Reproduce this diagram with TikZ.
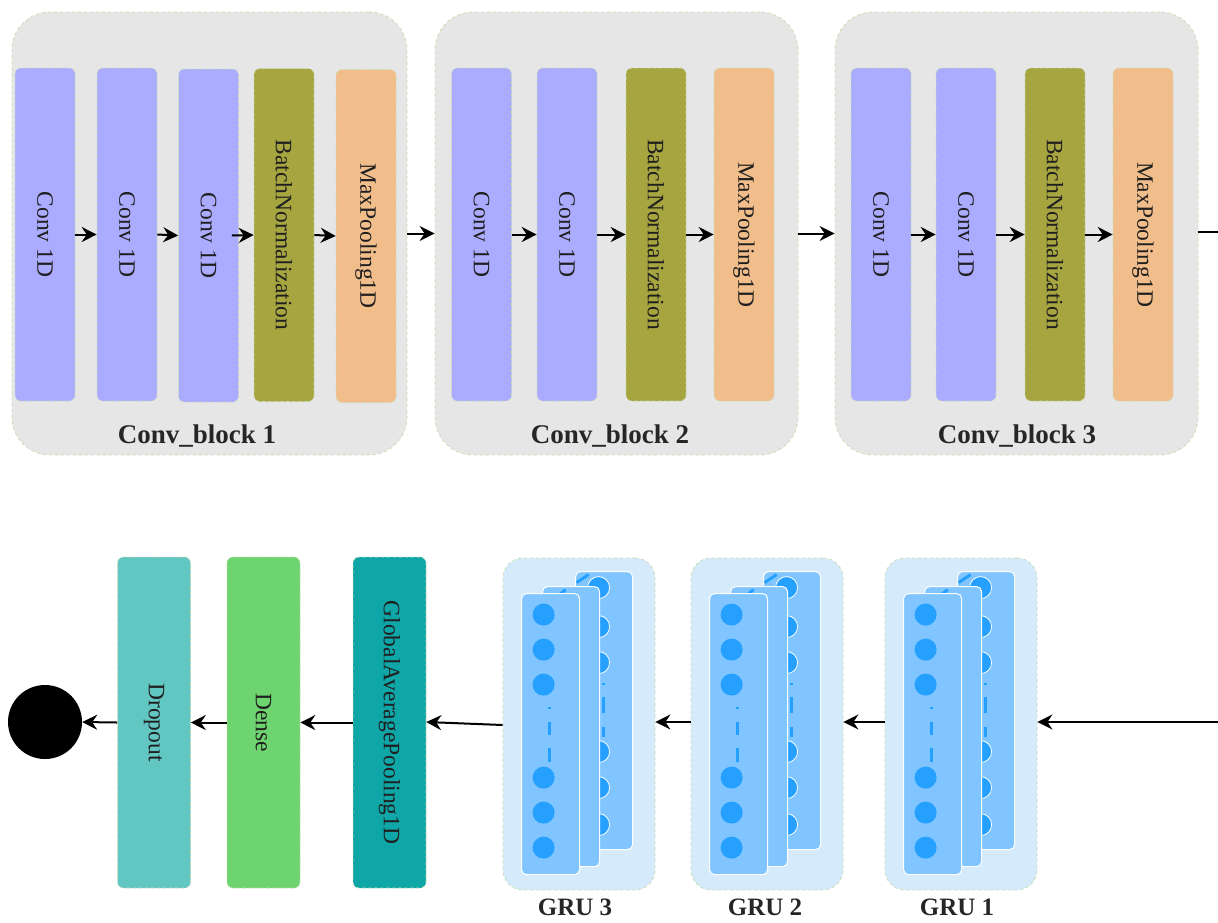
\documentclass[tikz,border=0pt]{standalone}
\usepackage{graphicx}
\usepackage{fontspec}
\setmainfont{Liberation Serif}
\usetikzlibrary{arrows.meta,calc}
\definecolor{bggrey}{HTML}{E6E6E6}
\definecolor{bordergreen}{HTML}{C8DEB2}
\definecolor{convc}{HTML}{ABABFF}
\definecolor{bnc}{HTML}{A7A540}
\definecolor{mpc}{HTML}{F1BD8B}
\definecolor{dropc}{HTML}{62C6C3}
\definecolor{densec}{HTML}{6ED46F}
\definecolor{gapc}{HTML}{0FA6A7}
\definecolor{grubg}{HTML}{D5EBFB}
\definecolor{cardc}{HTML}{80C5FF}
\definecolor{dotc}{HTML}{25A0FF}
\newcommand\layfont{\fontsize{23.5}{27}\selectfont}
\newcommand\blabfont{\fontsize{27}{30}\selectfont\bfseries}
\newcommand\grulabfont{\fontsize{25}{28}\selectfont\bfseries}
\begin{document}
\begin{tikzpicture}[x=1pt,y=-1pt,
  blockbg/.style={draw=bordergreen, dashed, line width=0.8pt, fill=bggrey, rounded corners=38pt,
    minimum width=#1, minimum height=443pt, inner sep=0pt},
  layer/.style={rounded corners=6pt, draw=bordergreen, dashed, line width=0.6pt,
    minimum width=60pt, minimum height=333pt, inner sep=0pt, font=\layfont, text=black!88},
  conv/.style={layer, fill=convc},
  bn/.style={layer, fill=bnc},
  mp/.style={layer, fill=mpc},
  headlayer/.style={layer, minimum width=73pt, minimum height=331pt},
  grubox/.style={draw=bordergreen, dashed, line width=0.8pt, fill=grubg, rounded corners=20pt,
    minimum width=152pt, minimum height=332pt, inner sep=0pt},
  blocklabel/.style={font=\blabfont, text=black!85, inner sep=0pt},
  grulabel/.style={font=\grulabfont, text=black!85, inner sep=0pt},
  arr/.style={-{Stealth[length=15pt,width=15pt,inset=5pt]}, line width=2pt},
  grucards/.pic={
    % back card
    \draw[white, line width=1pt, fill=cardc, rounded corners=5pt] (73,14) rectangle (130,292);
    \draw[dotc, line width=3pt] (74,25) -- (86,17);
    \foreach \yy in {30,69,105,194,230,267}
      \filldraw[fill=dotc, draw=white, line width=0.8pt] (96,\yy) circle (11pt);
    \draw[dotc, line width=3pt] (101,125) -- (101,127) (101,139) -- (101,155) (101,169) -- (101,179);
    % middle card
    \draw[white, line width=1pt, fill=cardc, rounded corners=5pt] (40,29) rectangle (97,309);
    \draw[dotc, line width=3pt] (52,41) -- (63,32);
    % front card
    \draw[white, line width=1pt, fill=cardc, rounded corners=5pt] (19,36) rectangle (77,317);
    \foreach \yy in {57,92,127,220,255,290}
      \fill[dotc] (41,\yy) circle (11pt);
    \draw[dotc, line width=3pt] (47,149) -- (47,151) (47,164) -- (47,177) (47,190) -- (47,204);
  }
]
\useasboundingbox (0,0) rectangle (1218,922);

% ---------- top row: containers ----------
\node[blockbg=395pt] (blk1) at (209.5,233.5) {};
\node[blockbg=363pt] (blk2) at (616.5,233.5) {};
\node[blockbg=363pt] (blk3) at (1016.5,233.5) {};

% block 1
\node[conv] (c11) at (45,234.5) {\rotatebox{-90}{Conv 1D}};
\node[conv] (c12) at (127,234.5) {\rotatebox{-90}{Conv 1D}};
\node[conv] (c13) at (208.5,235.5) {\rotatebox{-90}{Conv 1D}};
\node[bn] (bn1) at (284,235) {\rotatebox{-90}{BatchNormalization}};
\node[mp] (mp1) at (366,236) {\rotatebox{-90}{MaxPooling1D}};
\node[blocklabel] (lb1) at (197,436) {Conv\_block 1};

% block 2
\node[conv] (c21) at (481.5,234.5) {\rotatebox{-90}{Conv 1D}};
\node[conv] (c22) at (567,234.5) {\rotatebox{-90}{Conv 1D}};
\node[bn] (bn2) at (656,234.5) {\rotatebox{-90}{BatchNormalization}};
\node[mp] (mp2) at (744,234.5) {\rotatebox{-90}{MaxPooling1D}};
\node[blocklabel] (lb2) at (610,436) {Conv\_block 2};

% block 3
\node[conv] (c31) at (881,234.5) {\rotatebox{-90}{Conv 1D}};
\node[conv] (c32) at (966,234.5) {\rotatebox{-90}{Conv 1D}};
\node[bn] (bn3) at (1055,234.5) {\rotatebox{-90}{BatchNormalization}};
\node[mp] (mp3) at (1143,234.5) {\rotatebox{-90}{MaxPooling1D}};
\node[blocklabel] (lb3) at (1017,436) {Conv\_block 3};

% top arrows
\draw[arr] (c11.east) -- (c12.west);
\draw[arr] (c12.east) -- (c13.west);
\draw[arr] ($(c13.east)+(-7,0)$) -- (bn1.west);
\draw[arr] (bn1.east) -- (mp1.west);
\draw[arr] (blk1.east) -- (blk2.west);
\draw[arr] (c21.east) -- (c22.west);
\draw[arr] (c22.east) -- (bn2.west);
\draw[arr] (bn2.east) -- (mp2.west);
\draw[arr] (blk2.east) -- (blk3.west);
\draw[arr] (c31.east) -- (c32.west);
\draw[arr] (c32.east) -- (bn3.west);
\draw[arr] (bn3.east) -- (mp3.west);

% ---------- bottom row ----------
\node[circle, fill=black, minimum size=74pt, inner sep=0pt] (out) at (45,722) {};
\node[headlayer, fill=dropc] (drop) at (154,722.5) {\rotatebox{-90}{Dropout}};
\node[headlayer, fill=densec] (dense) at (263.5,722.5) {\rotatebox{-90}{Dense}};
\node[headlayer, fill=gapc] (gap) at (389.5,722.5) {\rotatebox{-90}{GlobalAveragePooling1D}};

\node[grubox] (gru3) at (579,724) {};
\node[grubox] (gru2) at (767,724) {};
\node[grubox] (gru1) at (961,724) {};
\pic at (gru3.north west) {grucards};
\pic at (gru2.north west) {grucards};
\pic at (gru1.north west) {grucards};
\node[grulabel] (lg3) at (575,907.5) {GRU 3};
\node[grulabel] (lg2) at (765,907.5) {GRU 2};
\node[grulabel] (lg1) at (957,907.5) {GRU 1};

% connector from conv block 3 around the right edge to GRU 1
\coordinate (turn) at (1240,232);
\draw[arr] (blk3.east |- turn) -- (turn) |- ($(gru1.east)+(0,-2)$);

% bottom arrows
\draw[arr] ($(gru1.west)+(0,-2)$) -- ($(gru2.east)+(0,-2)$);
\draw[arr] ($(gru2.west)+(0,-2)$) -- ($(gru3.east)+(0,-2)$);
\draw[arr] ($(gru3.west)+(0,1)$) -- ($(gap.east)+(0,-0.5)$);
\draw[arr] (gap.west) -- (dense.east);
\draw[arr] (dense.west) -- (drop.east);
\draw[arr] (drop.west) -- (out.east);
\end{tikzpicture}
\end{document}
